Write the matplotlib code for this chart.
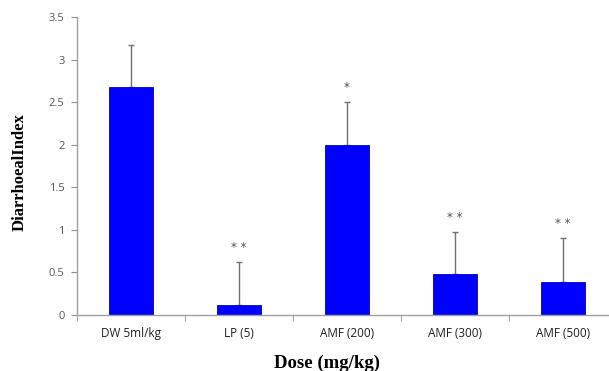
import numpy as np
import matplotlib
matplotlib.use('Agg')
import matplotlib.pyplot as plt

groups = ['DW 5ml/kg', 'LP (5)', 'AMF (200)', 'AMF (300)', 'AMF (500)']
index_mean = [2.68, 0.12, 2.0, 0.48, 0.39]
index_err = [0.49, 0.5, 0.5, 0.49, 0.51]
signif = ['', '**', '*', '**', '**']

fig = plt.figure(figsize=(6.09, 3.71), dpi=100)
ax = fig.add_axes([0.1264, 0.151, 0.8866, 0.803])

x = np.arange(len(groups))
ax.bar(x, index_mean, width=0.4, color='#0000ff', edgecolor='#0000c8', linewidth=0.6, zorder=2)
ax.errorbar(x, index_mean, yerr=[np.zeros(len(x)), index_err], fmt='none',
            ecolor='#707070', elinewidth=1, capsize=2.5, capthick=1, zorder=1)

# significance marks above each error bar
for xi, m, e, s in zip(x, index_mean, index_err, signif):
    if s:
        ax.text(xi, m + e + 0.1, ' '.join(s), ha='center', va='bottom', fontsize=8.5,
                color='#505050', family='DejaVu Sans')

ax.set_xlim(-0.5, len(groups) - 0.5)
ax.set_ylim(0, 3.5)
ax.set_yticks(np.arange(0, 3.51, 0.5))
ax.set_yticklabels(['0', '0.5', '1', '1.5', '2', '2.5', '3', '3.5'],
                   fontsize=8, color='#555555', family='Open Sans')
ax.set_xticks(x)
ax.set_xticklabels(groups, fontsize=8.5, color='#202020', family='Open Sans')
ax.set_xticks(np.arange(-0.5, len(groups), 1), minor=True)
ax.tick_params(axis='x', which='major', length=0, pad=9)
ax.tick_params(axis='x', which='minor', length=4, color='#909090', direction='out')
ax.tick_params(axis='y', length=4, color='#909090', direction='out', pad=5)

for side in ['top', 'right']:
    ax.spines[side].set_visible(False)
for side in ['left', 'bottom']:
    ax.spines[side].set_color('#a0a0a0')
    ax.spines[side].set_linewidth(1)

ax.set_ylabel('DiarrhoealIndex', fontsize=12, fontweight='bold',
              family='Liberation Serif')
ax.yaxis.set_label_coords(-0.091, 0.48)
ax.set_xlabel('Dose (mg/kg)', fontsize=13.5, fontweight='bold',
              family='Liberation Serif', va='center')
ax.xaxis.set_label_coords(0.463, -0.162)

fig.savefig('out.png', dpi=100)
